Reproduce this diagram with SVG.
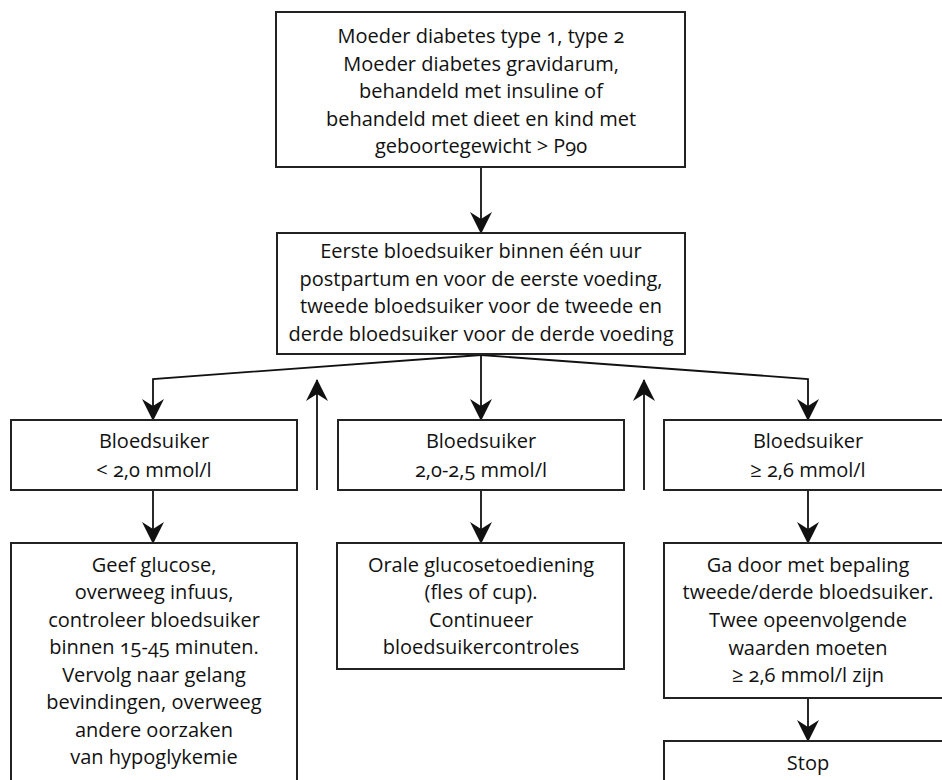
<svg xmlns="http://www.w3.org/2000/svg" width="942" height="780" viewBox="0 0 942 780">
<style>
rect{fill:#fff;stroke:#222;stroke-width:2}
text{font-family:"Open Sans",Lato,"DejaVu Sans",sans-serif;font-size:20px;fill:#111;text-anchor:middle;font-variant-numeric:oldstyle-nums}
.c{fill:none;stroke:#111;stroke-width:1.8}
</style>
<defs>
<marker id="ah" viewBox="0 0 22 22" refX="21" refY="11" markerWidth="22" markerHeight="22" markerUnits="userSpaceOnUse" orient="auto">
<path d="M0,0 L22,11 L0,22 L7,11 z" fill="#111"/>
</marker>
</defs>
<g id="connectors">
<path class="c" d="M481,167 V233" marker-end="url(#ah)"/>
<path class="c" d="M481,355 L153,379 V420" marker-end="url(#ah)"/>
<path class="c" d="M481,355 V420" marker-end="url(#ah)"/>
<path class="c" d="M481,355 L808,379 V420" marker-end="url(#ah)"/>
<path class="c" d="M317,490 V380" marker-end="url(#ah)"/>
<path class="c" d="M644,490 V380" marker-end="url(#ah)"/>
<path class="c" d="M153,490 V543" marker-end="url(#ah)"/>
<path class="c" d="M481,490 V543" marker-end="url(#ah)"/>
<path class="c" d="M808,490 V543" marker-end="url(#ah)"/>
<path class="c" d="M808,698 V741" marker-end="url(#ah)"/>
</g>
<g id="n1">
<rect x="276" y="12" width="409" height="155"/>
<text x="481" y="43">Moeder diabetes type 1, type 2</text>
<text x="481" y="71">Moeder diabetes gravidarum,</text>
<text x="481" y="98">behandeld met insuline of</text>
<text x="481" y="126">behandeld met dieet en kind met</text>
<text x="481" y="153">geboortegewicht &gt; P90</text>
</g>
<g id="n2">
<rect x="277" y="233" width="408" height="121"/>
<text x="481" y="258">Eerste bloedsuiker binnen één uur</text>
<text x="481" y="286">postpartum en voor de eerste voeding,</text>
<text x="481" y="313">tweede bloedsuiker voor de tweede en</text>
<text x="481" y="341">derde bloedsuiker voor de derde voeding</text>
</g>
<g id="n3">
<rect x="11" y="420" width="286" height="70"/>
<text x="154" y="448">Bloedsuiker</text>
<text x="154" y="477">&lt; 2,0 mmol/l</text>
</g>
<g id="n4">
<rect x="338" y="420" width="286" height="70"/>
<text x="481" y="448">Bloedsuiker</text>
<text x="481" y="477">2,0-2,5 mmol/l</text>
</g>
<g id="n5">
<rect x="664" y="420" width="288" height="70"/>
<text x="808" y="448">Bloedsuiker</text>
<text x="808" y="477">≥ 2,6 mmol/l</text>
</g>
<g id="n6">
<rect x="11" y="543" width="286" height="250"/>
<text x="154" y="572">Geef glucose,</text>
<text x="154" y="599">overweeg infuus,</text>
<text x="154" y="627">controleer bloedsuiker</text>
<text x="154" y="654">binnen 15-45 minuten.</text>
<text x="154" y="682">Vervolg naar gelang</text>
<text x="154" y="709">bevindingen, overweeg</text>
<text x="154" y="737">andere oorzaken</text>
<text x="154" y="764">van hypoglykemie</text>
</g>
<g id="n7">
<rect x="337" y="543" width="287" height="126"/>
<text x="481" y="572">Orale glucosetoediening</text>
<text x="481" y="599">(fles of cup).</text>
<text x="481" y="627">Continueer</text>
<text x="481" y="654">bloedsuikercontroles</text>
</g>
<g id="n8">
<rect x="664" y="543" width="288" height="155"/>
<text x="808" y="572">Ga door met bepaling</text>
<text x="808" y="599">tweede/derde bloedsuiker.</text>
<text x="808" y="627">Twee opeenvolgende</text>
<text x="808" y="655">waarden moeten</text>
<text x="808" y="682">≥ 2,6 mmol/l zijn</text>
</g>
<g id="n9">
<rect x="664" y="741" width="288" height="60"/>
<text x="808" y="770">Stop</text>
</g>
</svg>
